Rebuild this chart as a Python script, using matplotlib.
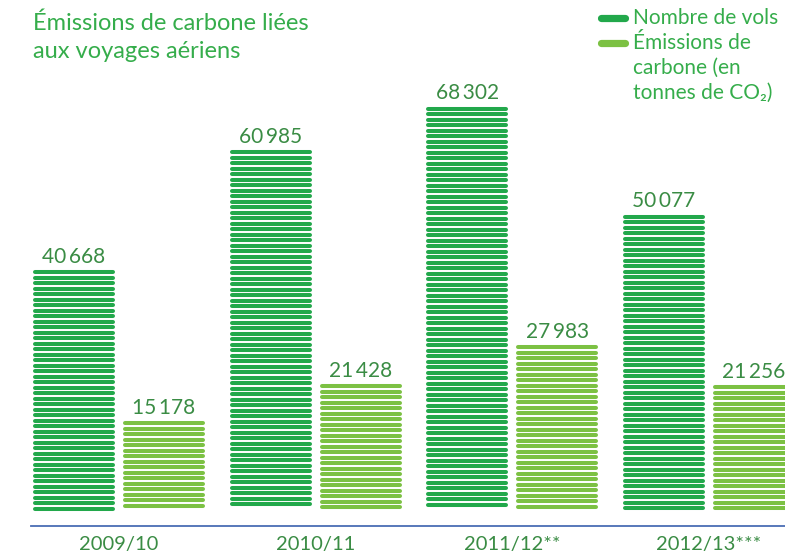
import numpy as np
import matplotlib
matplotlib.use("Agg")
import matplotlib.pyplot as plt
from matplotlib.lines import Line2D

# data
YEARS = ["2009/10", "2010/11", "2011/12**", "2012/13***"]
FLIGHTS = [40668, 60985, 68302, 50077]
CO2_TONNES = [15178, 21428, 27983, 21256]

TITLE = "Émissions de carbone liées\naux voyages aériens"
LEGEND_LABELS = ["Nombre de vols", "Émissions de", "carbone (en", "tonnes de CO\u2082)"]

DARK = "#22a84b"
LIGHT = "#7cc143"
TEXT_DARK = "#3a8c44"
TEXT_BRIGHT = "#35ad4b"
AXIS_BLUE = "#4a6db4"

W, H = 785, 557
UNITS_PER_PX = 169.0
GROUP_PX = 196.7

plt.rcParams["font.family"] = ["Lato", "DejaVu Sans"]


def fmt(v):
    return f"{v:,}".replace(",", "\u2009")


def striped_bar(ax, x, width, value, color):
    step = 5.5 * UNITS_PER_PX
    half = 2.0 * UNITS_PER_PX
    cap = 2.0 / GROUP_PX
    ys = np.arange(value - half, half - 1e-6, -step)
    lc = ax.hlines(ys, x - width / 2 + cap, x + width / 2 - cap,
                   colors=color, linewidth=2.9)
    lc.set_capstyle("round")


def main():
    fig = plt.figure(figsize=(W / 100, H / 100), dpi=100)
    ax = fig.add_axes([31 / W, 31 / H, 1 - 31 / W, 526 / H])

    x = np.arange(len(YEARS))
    width = 82 / GROUP_PX
    off = 45 / GROUP_PX

    for i in x:
        for val, dx, col in ((FLIGHTS[i], -off, DARK), (CO2_TONNES[i], off, LIGHT)):
            striped_bar(ax, i + dx, width, val, col)
            ax.annotate(fmt(val), (i + dx, val), xytext=(0, 5.5),
                        textcoords="offset points", ha="center", va="baseline",
                        fontsize=15, color=TEXT_DARK)

    ax.set_xlim(-88 / GROUP_PX, (754 - 88) / GROUP_PX)
    ax.set_ylim(-15 * UNITS_PER_PX, 511 * UNITS_PER_PX)

    ax.set_xticks(x, YEARS, fontsize=14.5, color=TEXT_DARK)
    ax.tick_params(axis="x", length=0, pad=7)
    ax.set_yticks([])
    for side in ("top", "right", "left"):
        ax.spines[side].set_visible(False)
    ax.spines["bottom"].set_color(AXIS_BLUE)
    ax.spines["bottom"].set_linewidth(1.3)
    ax.patch.set_alpha(0)

    for line, base in zip(TITLE.split("\n"), (30, 58)):
        fig.text(33 / W, 1 - base / H, line, ha="left", va="baseline",
                 fontsize=17, color=TEXT_BRIGHT)

    # legend drawn by hand so the swatch lines up with the first text line
    for k, lab in enumerate(LEGEND_LABELS):
        yc = 1 - (18 + 25 * k) / H
        if k < 2:
            fig.add_artist(Line2D([601 / W, 625 / W], [yc, yc], transform=fig.transFigure,
                                  color=(DARK, LIGHT)[k], linewidth=5.2,
                                  solid_capstyle="round"))
        fig.text(633 / W, yc - 6 / H, lab, ha="left", va="baseline", fontsize=15,
                 color=TEXT_BRIGHT)

    fig.savefig("out.png", dpi=100)


if __name__ == "__main__":
    main()
